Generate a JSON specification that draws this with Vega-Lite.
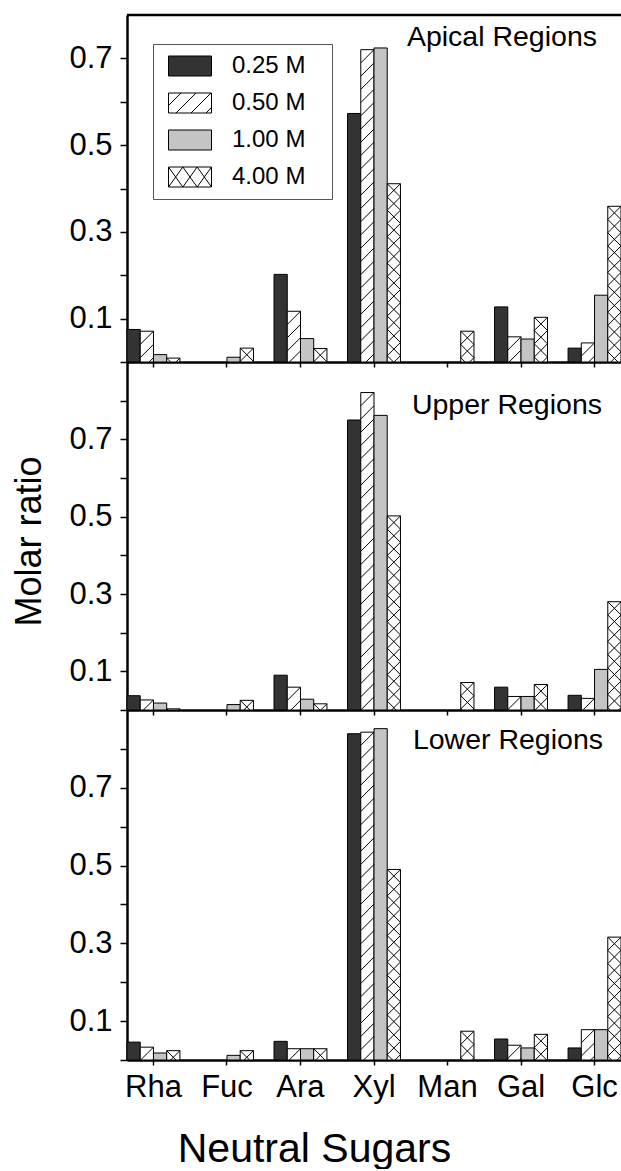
{
  "$schema": "https://vega.github.io/schema/vega-lite/v6.json",
  "padding": {"left": 11, "top": 13, "right": 0, "bottom": 0},
  "background": "white",
  "spacing": 0,
  "bounds": "flush",
  "config": {
    "view": {"stroke": null},
    "font": "Liberation Sans",
    "axis": {
      "domainColor": "black", "domainWidth": 2.5, "tickColor": "black", "tickWidth": 1.5,
      "labelColor": "black", "labelFont": "Liberation Sans", "labelFontSize": 31,
      "titleColor": "black", "titleFont": "Liberation Sans", "titleFontWeight": "normal",
      "grid": false, "labelOverlap": false
    }
  },
  "datasets": {
    "sugars": [
      {"region":"Apical","sugar":"Rha","conc":"0.25 M","value":0.075},
      {"region":"Apical","sugar":"Rha","conc":"0.50 M","value":0.071},
      {"region":"Apical","sugar":"Rha","conc":"1.00 M","value":0.017},
      {"region":"Apical","sugar":"Rha","conc":"4.00 M","value":0.009},
      {"region":"Apical","sugar":"Fuc","conc":"1.00 M","value":0.011},
      {"region":"Apical","sugar":"Fuc","conc":"4.00 M","value":0.032},
      {"region":"Apical","sugar":"Ara","conc":"0.25 M","value":0.202},
      {"region":"Apical","sugar":"Ara","conc":"0.50 M","value":0.117},
      {"region":"Apical","sugar":"Ara","conc":"1.00 M","value":0.054},
      {"region":"Apical","sugar":"Ara","conc":"4.00 M","value":0.031},
      {"region":"Apical","sugar":"Xyl","conc":"0.25 M","value":0.573},
      {"region":"Apical","sugar":"Xyl","conc":"0.50 M","value":0.720},
      {"region":"Apical","sugar":"Xyl","conc":"1.00 M","value":0.724},
      {"region":"Apical","sugar":"Xyl","conc":"4.00 M","value":0.411},
      {"region":"Apical","sugar":"Man","conc":"4.00 M","value":0.071},
      {"region":"Apical","sugar":"Gal","conc":"0.25 M","value":0.127},
      {"region":"Apical","sugar":"Gal","conc":"0.50 M","value":0.058},
      {"region":"Apical","sugar":"Gal","conc":"1.00 M","value":0.053},
      {"region":"Apical","sugar":"Gal","conc":"4.00 M","value":0.103},
      {"region":"Apical","sugar":"Glc","conc":"0.25 M","value":0.032},
      {"region":"Apical","sugar":"Glc","conc":"0.50 M","value":0.044},
      {"region":"Apical","sugar":"Glc","conc":"1.00 M","value":0.154},
      {"region":"Apical","sugar":"Glc","conc":"4.00 M","value":0.359},
      {"region":"Upper","sugar":"Rha","conc":"0.25 M","value":0.037},
      {"region":"Upper","sugar":"Rha","conc":"0.50 M","value":0.026},
      {"region":"Upper","sugar":"Rha","conc":"1.00 M","value":0.018},
      {"region":"Upper","sugar":"Rha","conc":"4.00 M","value":0.003},
      {"region":"Upper","sugar":"Fuc","conc":"1.00 M","value":0.014},
      {"region":"Upper","sugar":"Fuc","conc":"4.00 M","value":0.025},
      {"region":"Upper","sugar":"Ara","conc":"0.25 M","value":0.090},
      {"region":"Upper","sugar":"Ara","conc":"0.50 M","value":0.059},
      {"region":"Upper","sugar":"Ara","conc":"1.00 M","value":0.028},
      {"region":"Upper","sugar":"Ara","conc":"4.00 M","value":0.016},
      {"region":"Upper","sugar":"Xyl","conc":"0.25 M","value":0.750},
      {"region":"Upper","sugar":"Xyl","conc":"0.50 M","value":0.821},
      {"region":"Upper","sugar":"Xyl","conc":"1.00 M","value":0.762},
      {"region":"Upper","sugar":"Xyl","conc":"4.00 M","value":0.502},
      {"region":"Upper","sugar":"Man","conc":"4.00 M","value":0.071},
      {"region":"Upper","sugar":"Gal","conc":"0.25 M","value":0.059},
      {"region":"Upper","sugar":"Gal","conc":"0.50 M","value":0.035},
      {"region":"Upper","sugar":"Gal","conc":"1.00 M","value":0.035},
      {"region":"Upper","sugar":"Gal","conc":"4.00 M","value":0.066},
      {"region":"Upper","sugar":"Glc","conc":"0.25 M","value":0.038},
      {"region":"Upper","sugar":"Glc","conc":"0.50 M","value":0.030},
      {"region":"Upper","sugar":"Glc","conc":"1.00 M","value":0.105},
      {"region":"Upper","sugar":"Glc","conc":"4.00 M","value":0.280},
      {"region":"Lower","sugar":"Rha","conc":"0.25 M","value":0.046},
      {"region":"Lower","sugar":"Rha","conc":"0.50 M","value":0.033},
      {"region":"Lower","sugar":"Rha","conc":"1.00 M","value":0.018},
      {"region":"Lower","sugar":"Rha","conc":"4.00 M","value":0.024},
      {"region":"Lower","sugar":"Fuc","conc":"1.00 M","value":0.012},
      {"region":"Lower","sugar":"Fuc","conc":"4.00 M","value":0.024},
      {"region":"Lower","sugar":"Ara","conc":"0.25 M","value":0.048},
      {"region":"Lower","sugar":"Ara","conc":"0.50 M","value":0.029},
      {"region":"Lower","sugar":"Ara","conc":"1.00 M","value":0.029},
      {"region":"Lower","sugar":"Ara","conc":"4.00 M","value":0.029},
      {"region":"Lower","sugar":"Xyl","conc":"0.25 M","value":0.839},
      {"region":"Lower","sugar":"Xyl","conc":"0.50 M","value":0.843},
      {"region":"Lower","sugar":"Xyl","conc":"1.00 M","value":0.852},
      {"region":"Lower","sugar":"Xyl","conc":"4.00 M","value":0.490},
      {"region":"Lower","sugar":"Man","conc":"4.00 M","value":0.074},
      {"region":"Lower","sugar":"Gal","conc":"0.25 M","value":0.054},
      {"region":"Lower","sugar":"Gal","conc":"0.50 M","value":0.038},
      {"region":"Lower","sugar":"Gal","conc":"1.00 M","value":0.031},
      {"region":"Lower","sugar":"Gal","conc":"4.00 M","value":0.066},
      {"region":"Lower","sugar":"Glc","conc":"0.25 M","value":0.031},
      {"region":"Lower","sugar":"Glc","conc":"0.50 M","value":0.078},
      {"region":"Lower","sugar":"Glc","conc":"1.00 M","value":0.078},
      {"region":"Lower","sugar":"Glc","conc":"4.00 M","value":0.316}
    ]
  },
  "resolve": {"scale": {"y": "independent", "fill": "independent"}, "legend": {"fill": "independent"}},
  "vconcat": [
    {
      "width": 494, "height": 347,
      "title": {"text": "Apical Regions", "anchor": "end", "frame": "group", "orient": "top", "offset": 0, "dx": -24, "dy": 61, "baseline": "alphabetic", "fontSize": 28.5, "fontWeight": "normal", "font": "Liberation Sans", "color": "black"},
      "layer": [
        {
          "data": {"name": "sugars"},
          "transform": [{"filter": "datum.region === 'Apical'"}],
          "encoding": {
            "x": {"field": "sugar", "type": "nominal", "sort": ["Rha","Fuc","Ara","Xyl","Man","Gal","Glc"],
                  "scale": {"domain": ["Rha","Fuc","Ara","Xyl","Man","Gal","Glc"], "paddingInner": 0.28, "paddingOuter": 0},
                  "axis": {"title": null, "labels": false, "tickSize": 5}},
            "xOffset": {"field": "conc", "type": "nominal", "scale": {"domain": ["0.25 M","0.50 M","1.00 M","4.00 M"], "paddingInner": 0, "paddingOuter": 0}},
            "y": {"field": "value", "type": "quantitative", "stack": null,
                  "scale": {"domain": [0, 0.8], "nice": false, "zero": true},
                  "axis": {"title": null, "values": [0,0.1,0.2,0.3,0.4,0.5,0.6,0.7], "format": ".1f",
                           "labelExpr": "(datum.label == '0.1' || datum.label == '0.3' || datum.label == '0.5' || datum.label == '0.7') ? datum.label : ''",
                           "tickSize": 7, "labelPadding": 8}}
          },
          "layer": [
            {
              "mark": {"type": "bar", "stroke": "black", "strokeWidth": 1, "opacity": 1},
              "encoding": {
                "fill": {"field": "conc", "type": "nominal",
                         "scale": {"domain": ["0.25 M","0.50 M","1.00 M","4.00 M"], "range": ["#333333","#ffffff","#c4c4c4","#ffffff"]},
                         "legend": {
                           "orient": "none", "legendX": 26, "legendY": 29, "title": null, "direction": "vertical",
                           "padding": 10, "strokeColor": "#555", "fillColor": "white",
                           "symbolSize": 400, "symbolType": "M-2.15,-1H2.15V1H-2.15ZM12.95,0", "symbolOffset": 15,
                           "symbolStrokeColor": "black", "symbolStrokeWidth": 1,
                           "labelOffset": 30, "labelFontSize": 24, "labelFont": "Liberation Sans", "labelColor": "black",
                           "rowPadding": 13,
                           "encoding": {"symbols": {
                             "shape": {
                               "condition": [
                                 {"test": "datum.value === '0.50 M'", "value": "M-2.15,-1H2.15V1H-2.15ZM-2.15,0.25L-0.9,-1M-1.4,1L0.6,-1M0.1,1L2.1,-1M1.6,1L2.15,0.45M12.95,0"},
                                 {"test": "datum.value === '4.00 M'", "value": "M-2.15,-1H2.15V1H-2.15ZM-2.15,-1L-0.717,1M-0.717,-1L0.717,1M0.717,-1L2.15,1M-2.15,1L-0.717,-1M-0.717,1L0.717,-1M0.717,1L2.15,-1M12.95,0"}
                               ],
                               "value": "M-2.15,-1H2.15V1H-2.15ZM12.95,0"
                             }
                           }}
                         }}
              }
            },
            {
              "transform": [{"filter": "datum.conc === '0.50 M'"}],
              "mark": {"type": "point", "shape": "M1,0L-1,2M1,2L-1,4M1,4L-1,6M1,6L-1,8M1,8L-1,10M1,10L-1,12M1,12L-1,14M1,14L-1,16M1,16L-1,18M1,18L-1,20M1,20L-1,22M1,22L-1,24M1,24L-1,26M1,26L-1,28M1,28L-1,30M1,30L-1,32M1,32L-1,34M1,34L-1,36M1,36L-1,38M1,38L-1,40M1,40L-1,42M1,42L-1,44M1,44L-1,46M1,46L-1,48M1,48L-1,50M1,50L-1,52", "size": 175, "filled": false, "stroke": "black", "strokeWidth": 1, "opacity": 1, "clip": true}
            },
            {
              "transform": [{"filter": "datum.conc === '4.00 M'"}],
              "mark": {"type": "point", "shape": "M1,0L-1,2M1,2L-1,4M1,4L-1,6M1,6L-1,8M1,8L-1,10M1,10L-1,12M1,12L-1,14M1,14L-1,16M1,16L-1,18M1,18L-1,20M1,20L-1,22M1,22L-1,24M1,24L-1,26M1,26L-1,28M1,28L-1,30M1,30L-1,32M1,32L-1,34M1,34L-1,36M1,36L-1,38M1,38L-1,40M1,40L-1,42M1,42L-1,44M1,44L-1,46M1,46L-1,48M1,48L-1,50M1,50L-1,52M-1,0L1,2M-1,2L1,4M-1,4L1,6M-1,6L1,8M-1,8L1,10M-1,10L1,12M-1,12L1,14M-1,14L1,16M-1,16L1,18M-1,18L1,20M-1,20L1,22M-1,22L1,24M-1,24L1,26M-1,26L1,28M-1,28L1,30M-1,30L1,32M-1,32L1,34M-1,34L1,36M-1,36L1,38M-1,38L1,40M-1,40L1,42M-1,42L1,44M-1,44L1,46M-1,46L1,48M-1,48L1,50M-1,50L1,52", "size": 175, "filled": false, "stroke": "black", "strokeWidth": 1, "opacity": 1, "clip": true}
            }
          ]
        },
        {
          "data": {"values": [{"edge": "top"}]},
          "mark": {"type": "rule", "strokeWidth": 2.5, "color": "black"},
          "encoding": {"y": {"datum": 0.8}}
        }
      ]
    },
    {
      "width": 494, "height": 348,
      "title": {"text": "Upper Regions", "anchor": "end", "frame": "group", "orient": "top", "offset": 0, "dx": -19, "dy": 80.5, "baseline": "alphabetic", "fontSize": 28.5, "fontWeight": "normal", "font": "Liberation Sans", "color": "black"},
      "data": {"name": "sugars"},
      "transform": [{"filter": "datum.region === 'Upper'"}],
      "encoding": {
        "x": {"field": "sugar", "type": "nominal", "sort": ["Rha","Fuc","Ara","Xyl","Man","Gal","Glc"],
              "scale": {"domain": ["Rha","Fuc","Ara","Xyl","Man","Gal","Glc"], "paddingInner": 0.28, "paddingOuter": 0},
              "axis": {"title": null, "labels": false, "tickSize": 5}},
        "xOffset": {"field": "conc", "type": "nominal", "scale": {"domain": ["0.25 M","0.50 M","1.00 M","4.00 M"], "paddingInner": 0, "paddingOuter": 0}},
        "y": {"field": "value", "type": "quantitative", "stack": null,
              "scale": {"domain": [0, 0.9], "nice": false, "zero": true},
              "axis": {"title": "Molar ratio", "titleFontSize": 36, "titleX": -87, "titleY": 179, "titleAngle": 270, "titleBaseline": "alphabetic", "titleAlign": "center",
                       "values": [0,0.1,0.2,0.3,0.4,0.5,0.6,0.7,0.8], "format": ".1f",
                       "labelExpr": "(datum.label == '0.1' || datum.label == '0.3' || datum.label == '0.5' || datum.label == '0.7') ? datum.label : ''",
                       "tickSize": 7, "labelPadding": 8}}
      },
      "layer": [
        {
          "mark": {"type": "bar", "stroke": "black", "strokeWidth": 1, "opacity": 1},
          "encoding": {
            "fill": {"field": "conc", "type": "nominal",
                     "scale": {"domain": ["0.25 M","0.50 M","1.00 M","4.00 M"], "range": ["#333333","#ffffff","#c4c4c4","#ffffff"]},
                     "legend": null}
          }
        },
        {
          "transform": [{"filter": "datum.conc === '0.50 M'"}],
          "mark": {"type": "point", "shape": "M1,0L-1,2M1,2L-1,4M1,4L-1,6M1,6L-1,8M1,8L-1,10M1,10L-1,12M1,12L-1,14M1,14L-1,16M1,16L-1,18M1,18L-1,20M1,20L-1,22M1,22L-1,24M1,24L-1,26M1,26L-1,28M1,28L-1,30M1,30L-1,32M1,32L-1,34M1,34L-1,36M1,36L-1,38M1,38L-1,40M1,40L-1,42M1,42L-1,44M1,44L-1,46M1,46L-1,48M1,48L-1,50M1,50L-1,52", "size": 175, "filled": false, "stroke": "black", "strokeWidth": 1, "opacity": 1, "clip": true}
        },
        {
          "transform": [{"filter": "datum.conc === '4.00 M'"}],
          "mark": {"type": "point", "shape": "M1,0L-1,2M1,2L-1,4M1,4L-1,6M1,6L-1,8M1,8L-1,10M1,10L-1,12M1,12L-1,14M1,14L-1,16M1,16L-1,18M1,18L-1,20M1,20L-1,22M1,22L-1,24M1,24L-1,26M1,26L-1,28M1,28L-1,30M1,30L-1,32M1,32L-1,34M1,34L-1,36M1,36L-1,38M1,38L-1,40M1,40L-1,42M1,42L-1,44M1,44L-1,46M1,46L-1,48M1,48L-1,50M1,50L-1,52M-1,0L1,2M-1,2L1,4M-1,4L1,6M-1,6L1,8M-1,8L1,10M-1,10L1,12M-1,12L1,14M-1,14L1,16M-1,16L1,18M-1,18L1,20M-1,20L1,22M-1,22L1,24M-1,24L1,26M-1,26L1,28M-1,28L1,30M-1,30L1,32M-1,32L1,34M-1,34L1,36M-1,36L1,38M-1,38L1,40M-1,40L1,42M-1,42L1,44M-1,44L1,46M-1,46L1,48M-1,48L1,50M-1,50L1,52", "size": 175, "filled": false, "stroke": "black", "strokeWidth": 1, "opacity": 1, "clip": true}
        }
      ]
    },
    {
      "width": 494, "height": 350,
      "title": {"text": "Lower Regions", "anchor": "end", "frame": "group", "orient": "top", "offset": 0, "dx": -18, "dy": 67, "baseline": "alphabetic", "fontSize": 28.5, "fontWeight": "normal", "font": "Liberation Sans", "color": "black"},
      "data": {"name": "sugars"},
      "transform": [{"filter": "datum.region === 'Lower'"}],
      "encoding": {
        "x": {"field": "sugar", "type": "nominal", "sort": ["Rha","Fuc","Ara","Xyl","Man","Gal","Glc"],
              "scale": {"domain": ["Rha","Fuc","Ara","Xyl","Man","Gal","Glc"], "paddingInner": 0.28, "paddingOuter": 0},
              "axis": {"title": "Neutral Sugars", "titleFontSize": 41, "titleX": 187, "titleY": 101, "titleBaseline": "alphabetic", "titleAlign": "center",
                       "labelAngle": 0, "labelPadding": 7, "tickSize": 5}},
        "xOffset": {"field": "conc", "type": "nominal", "scale": {"domain": ["0.25 M","0.50 M","1.00 M","4.00 M"], "paddingInner": 0, "paddingOuter": 0}},
        "y": {"field": "value", "type": "quantitative", "stack": null,
              "scale": {"domain": [0, 0.9], "nice": false, "zero": true},
              "axis": {"title": null, "values": [0,0.1,0.2,0.3,0.4,0.5,0.6,0.7,0.8], "format": ".1f",
                       "labelExpr": "(datum.label == '0.1' || datum.label == '0.3' || datum.label == '0.5' || datum.label == '0.7') ? datum.label : ''",
                       "tickSize": 7, "labelPadding": 8}}
      },
      "layer": [
        {
          "mark": {"type": "bar", "stroke": "black", "strokeWidth": 1, "opacity": 1},
          "encoding": {
            "fill": {"field": "conc", "type": "nominal",
                     "scale": {"domain": ["0.25 M","0.50 M","1.00 M","4.00 M"], "range": ["#333333","#ffffff","#c4c4c4","#ffffff"]},
                     "legend": null}
          }
        },
        {
          "transform": [{"filter": "datum.conc === '0.50 M'"}],
          "mark": {"type": "point", "shape": "M1,0L-1,2M1,2L-1,4M1,4L-1,6M1,6L-1,8M1,8L-1,10M1,10L-1,12M1,12L-1,14M1,14L-1,16M1,16L-1,18M1,18L-1,20M1,20L-1,22M1,22L-1,24M1,24L-1,26M1,26L-1,28M1,28L-1,30M1,30L-1,32M1,32L-1,34M1,34L-1,36M1,36L-1,38M1,38L-1,40M1,40L-1,42M1,42L-1,44M1,44L-1,46M1,46L-1,48M1,48L-1,50M1,50L-1,52", "size": 175, "filled": false, "stroke": "black", "strokeWidth": 1, "opacity": 1, "clip": true}
        },
        {
          "transform": [{"filter": "datum.conc === '4.00 M'"}],
          "mark": {"type": "point", "shape": "M1,0L-1,2M1,2L-1,4M1,4L-1,6M1,6L-1,8M1,8L-1,10M1,10L-1,12M1,12L-1,14M1,14L-1,16M1,16L-1,18M1,18L-1,20M1,20L-1,22M1,22L-1,24M1,24L-1,26M1,26L-1,28M1,28L-1,30M1,30L-1,32M1,32L-1,34M1,34L-1,36M1,36L-1,38M1,38L-1,40M1,40L-1,42M1,42L-1,44M1,44L-1,46M1,46L-1,48M1,48L-1,50M1,50L-1,52M-1,0L1,2M-1,2L1,4M-1,4L1,6M-1,6L1,8M-1,8L1,10M-1,10L1,12M-1,12L1,14M-1,14L1,16M-1,16L1,18M-1,18L1,20M-1,20L1,22M-1,22L1,24M-1,24L1,26M-1,26L1,28M-1,28L1,30M-1,30L1,32M-1,32L1,34M-1,34L1,36M-1,36L1,38M-1,38L1,40M-1,40L1,42M-1,42L1,44M-1,44L1,46M-1,46L1,48M-1,48L1,50M-1,50L1,52", "size": 175, "filled": false, "stroke": "black", "strokeWidth": 1, "opacity": 1, "clip": true}
        }
      ]
    }
  ]
}
